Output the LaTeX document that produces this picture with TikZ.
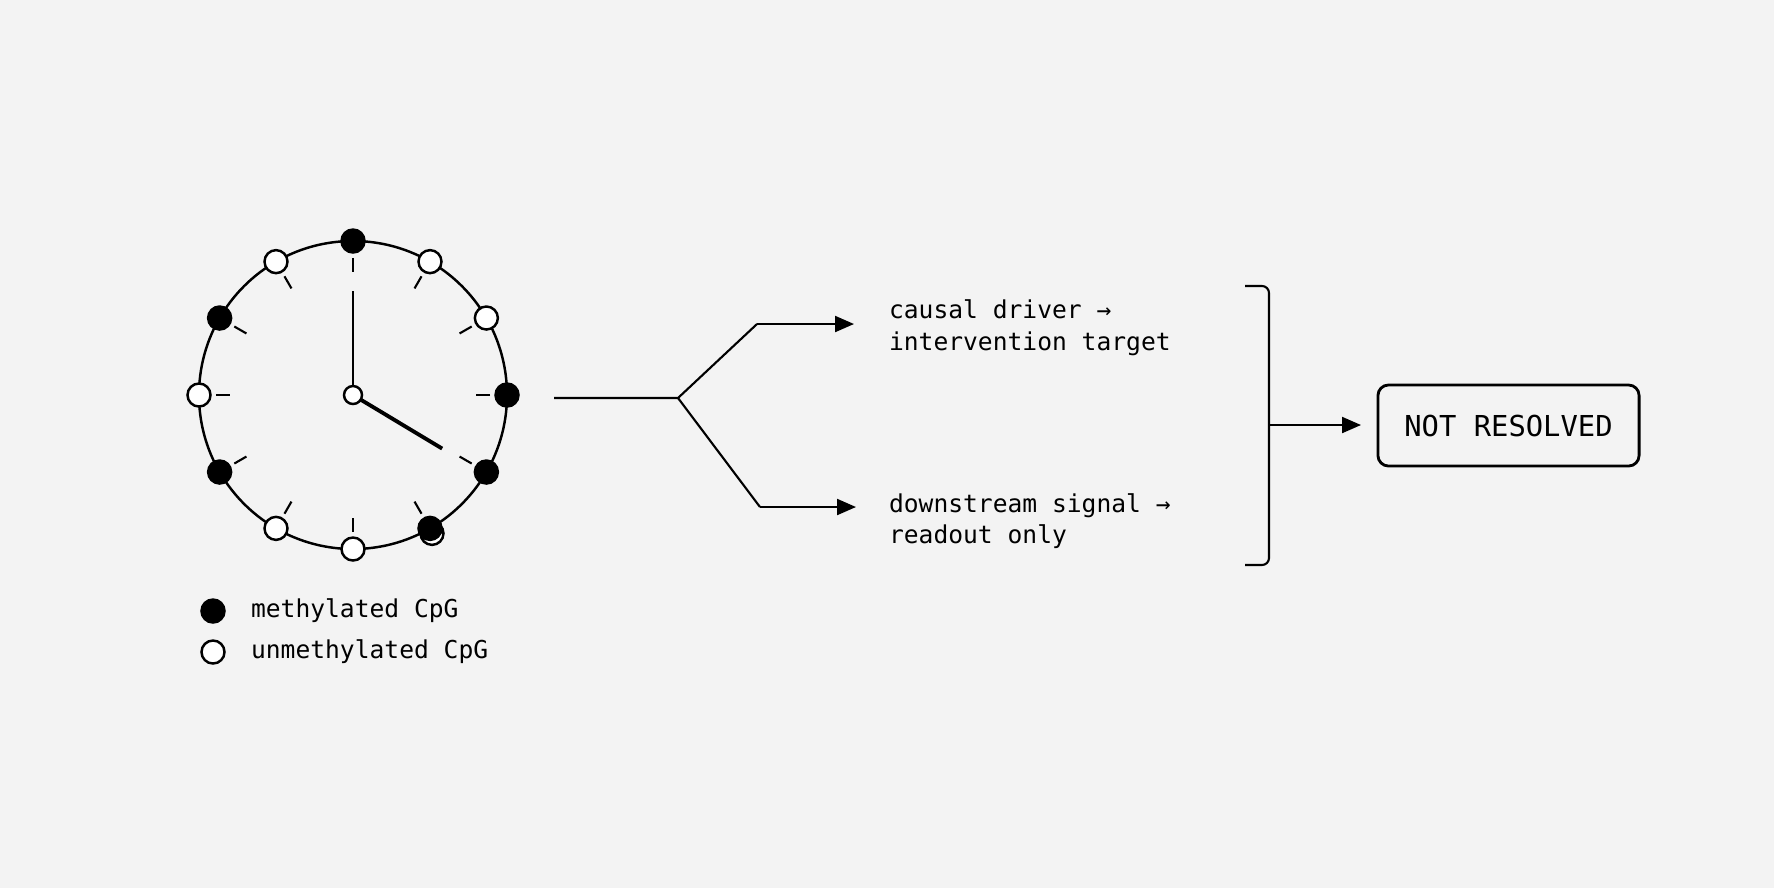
\documentclass[tikz,border=0pt]{standalone}
\usepackage{fontspec}
\setmonofont{DejaVu Sans Mono}
\usetikzlibrary{arrows.meta,calc}
\definecolor{bgcol}{HTML}{F3F3F3}
\tikzset{
  lbl/.style={font=\ttfamily\fontsize{7}{9}\selectfont, align=left, anchor=west, inner sep=0pt},
  cpgon/.style={circle, draw, fill=black, line width=0.7pt, minimum size=0.23cm, inner sep=0pt},
  cpgoff/.style={circle, draw, fill=white, line width=0.7pt, minimum size=0.23cm, inner sep=0pt},
  arr/.style={-{Triangle[length=0.19cm,width=0.16cm]}, line width=0.6pt},
}
\begin{document}
\begin{tikzpicture}[x=0.01cm,y=-0.01cm,line width=0.6pt]
    \useasboundingbox (0,0) rectangle (1774,887);
    \fill[bgcol] (-5,-5) rectangle (1780,893);

    \coordinate (c) at (353,395);
    \draw[line width=0.7pt] (c) circle[radius=154];
    % ticks
    \foreach \a in {0,30,...,330}
      \draw (c) ++(\a-90:0.89*154) -- ++(\a+90:14);
    % hands
    \draw (c) -- ++(-90:104);
    \draw[line width=1.1pt] (c) -- ++(31:104);
    \node[cpgoff, minimum size=0.18cm] (hub) at (c) {};
    % sites on the dial
    \node[cpgoff] (s5b) at ($(c)+(60:154)+(2,5)$) {};
    \foreach \a/\s in {0/cpgon,1/cpgoff,2/cpgoff,3/cpgon,4/cpgon,5/cpgon,6/cpgoff,7/cpgoff,8/cpgon,9/cpgoff,10/cpgon,11/cpgoff}
      \node[\s] (s\a) at ($(c)+(30*\a-90:154)$) {};

    % legend
    \node[cpgon] (k1) at (213,611) {};
    \node[cpgoff] (k2) at (213,652) {};
    \node[lbl] (t1) at (250,611) {methylated CpG};
    \node[lbl] (t2) at (250,652) {unmethylated CpG};

    % branches
    \coordinate (b0) at (554,398);
    \coordinate (b1) at (678,398);
    \coordinate (u1) at (757,324);
    \coordinate (u2) at (854,324);
    \coordinate (d1) at (760,507);
    \coordinate (d2) at (856,507);
    \node[lbl] (up) at (888,328) {causal driver →\\intervention target};
    \node[lbl] (dn) at (888,521) {downstream signal →\\readout only};
    \draw (b0) -- (b1) -- (u1);
    \draw (b1) -- (d1);
    \draw[arr] (u1) -- (u2);
    \draw[arr] (d1) -- (d2);

    % bracket and verdict
    \draw[rounded corners=2pt] (1245,286) -- (1269,286) -- (1269,565) -- (1245,565);
    \coordinate (br) at (1269,425);
    \coordinate (br2) at (1361,425);
    \node[draw, rounded corners=3pt, line width=0.8pt, minimum width=2.61cm, minimum height=0.81cm,
          font=\ttfamily\fontsize{8.2}{10}\selectfont] (res) at (1508.5,425.5) {NOT RESOLVED};
    \draw[arr] (br) -- (br2);
\end{tikzpicture}
\end{document}
